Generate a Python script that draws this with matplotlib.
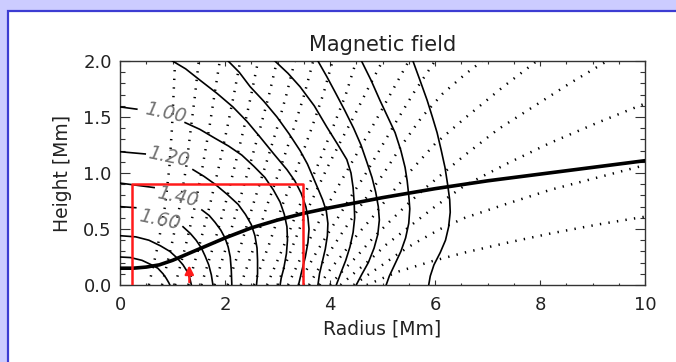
import numpy as np
import matplotlib
matplotlib.use("Agg")
import matplotlib.pyplot as plt
from matplotlib.patches import Rectangle

# ---- data (Radius / Height in Mm) ----
# thick line across the plot
thick_x = [0, 0.25, 0.5, 0.75, 1.0, 1.25, 1.5, 1.75, 2.0, 2.5, 3.0, 3.5, 4.0, 5.0, 6.0, 7.0, 8.0, 9.0, 10.0]
thick_y = [0.15, 0.15, 0.16, 0.18, 0.22, 0.27, 0.32, 0.37, 0.42, 0.51, 0.58, 0.64, 0.69, 0.78, 0.86, 0.93, 0.99, 1.05, 1.11]

# solid field-strength contours, inner to outer
contour_g_x = [0, 0.2, 0.42, 0.6, 0.72, 0.82, 0.88, 0.93, 0.95]
contour_g_y = [0.25, 0.245, 0.22, 0.18, 0.15, 0.10, 0.06, 0.02, 0]
contour_f_x = [0, 0.3, 0.55, 0.77, 0.95, 1.09, 1.2, 1.28, 1.33, 1.36]
contour_f_y = [0.44, 0.43, 0.40, 0.35, 0.30, 0.24, 0.18, 0.12, 0.06, 0]
# labelled contours: a short dash at the axis, then the curve after the label
c160_dash_x = [0, 0.3]
c160_dash_y = [0.70, 0.69]
c160_x = [1.2, 1.34, 1.45, 1.55, 1.62, 1.69, 1.74, 1.77]
c160_y = [0.52, 0.46, 0.40, 0.33, 0.26, 0.18, 0.09, 0]
c140_dash_x = [0, 0.65]
c140_dash_y = [0.91, 0.87]
c140_x = [1.56, 1.7, 1.81, 1.92, 2.0, 2.06, 2.1, 2.12, 2.13]
c140_y = [0.67, 0.62, 0.56, 0.49, 0.42, 0.34, 0.25, 0.13, 0]
c120_dash_x = [0, 0.48]
c120_dash_y = [1.19, 1.17]
c120_x = [1.39, 1.6, 1.81, 2.04, 2.25, 2.39, 2.5, 2.57, 2.61, 2.62, 2.62, 2.6]
c120_y = [1.03, 0.97, 0.90, 0.81, 0.72, 0.63, 0.54, 0.44, 0.33, 0.22, 0.10, 0]
c100_dash_x = [0, 0.32]
c100_dash_y = [1.59, 1.57]
c100_x = [1.24, 1.52, 1.81, 2.07, 2.32, 2.55, 2.76, 2.92, 3.05, 3.13, 3.18, 3.19, 3.17, 3.12, 3.07, 3.05]
c100_y = [1.45, 1.39, 1.31, 1.24, 1.16, 1.06, 0.96, 0.85, 0.74, 0.63, 0.52, 0.40, 0.28, 0.15, 0.06, 0]
# contours that come in from the top edge
top1_x = [1.0, 1.25, 1.52, 1.85, 2.15, 2.42, 2.67, 2.93, 3.18, 3.33, 3.45, 3.54, 3.58, 3.6, 3.58, 3.53, 3.46, 3.4]
top1_y = [2.0, 1.93, 1.83, 1.71, 1.59, 1.46, 1.32, 1.17, 1.03, 0.93, 0.82, 0.70, 0.60, 0.50, 0.38, 0.25, 0.12, 0]
top2_x = [2.06, 2.27, 2.48, 2.74, 2.99, 3.22, 3.43, 3.57, 3.68, 3.78, 3.86, 3.93, 3.96, 3.95, 3.91, 3.85, 3.8, 3.77]
top2_y = [2.0, 1.9, 1.77, 1.64, 1.5, 1.35, 1.2, 1.08, 0.96, 0.85, 0.76, 0.66, 0.55, 0.44, 0.32, 0.2, 0.1, 0]
top3_x = [2.95, 3.2, 3.43, 3.7, 3.94, 4.14, 4.32, 4.4, 4.44, 4.46, 4.47, 4.44, 4.38, 4.3, 4.2, 4.12]
top3_y = [2.0, 1.89, 1.77, 1.6, 1.41, 1.26, 1.12, 1.0, 0.87, 0.74, 0.6, 0.47, 0.34, 0.22, 0.1, 0]
top4_x = [3.77, 3.94, 4.1, 4.28, 4.45, 4.59, 4.7, 4.8, 4.87, 4.92, 4.94, 4.91, 4.84, 4.73, 4.6, 4.5]
top4_y = [2.0, 1.86, 1.72, 1.56, 1.4, 1.25, 1.1, 0.96, 0.83, 0.7, 0.58, 0.45, 0.33, 0.2, 0.09, 0]
top5_x = [4.6, 4.78, 4.95, 5.1, 5.24, 5.35, 5.43, 5.47, 5.5, 5.52, 5.5, 5.44, 5.35, 5.23, 5.13, 5.07]
top5_y = [2.0, 1.83, 1.65, 1.5, 1.36, 1.2, 1.05, 0.93, 0.8, 0.68, 0.55, 0.42, 0.3, 0.18, 0.08, 0]
top6_x = [5.58, 5.72, 5.85, 5.95, 6.04, 6.12, 6.19, 6.24, 6.28, 6.29, 6.26, 6.2, 6.1, 5.98, 5.91, 5.88]
top6_y = [2.0, 1.82, 1.65, 1.5, 1.36, 1.2, 1.05, 0.9, 0.76, 0.65, 0.52, 0.4, 0.29, 0.18, 0.08, 0]

# contour labels
label_text = ["1.00", "1.20", "1.40", "1.60"]
label_x = [0.86, 0.92, 1.10, 0.76]
label_y = [1.54, 1.14, 0.79, 0.58]

# dotted field lines, inner ones sampled at the same heights
inner_y = [0, 0.35, 0.71, 1.05, 1.4, 1.7, 2.0]
fl1 = [0.55, 0.72, 0.86, 0.94, 0.99, 1.02, 1.05]
fl2 = [0.80, 0.98, 1.14, 1.26, 1.35, 1.43, 1.50]
fl3 = [1.05, 1.25, 1.43, 1.57, 1.70, 1.80, 1.90]
fl4 = [1.30, 1.51, 1.71, 1.88, 2.04, 2.17, 2.29]
fl5 = [1.55, 1.78, 2.00, 2.18, 2.36, 2.50, 2.63]
fl6 = [1.80, 2.03, 2.25, 2.46, 2.67, 2.84, 2.99]
fl7 = [2.05, 2.30, 2.53, 2.76, 2.99, 3.17, 3.33]
fl8 = [2.30, 2.56, 2.80, 3.06, 3.31, 3.51, 3.68]
fl9 = [2.55, 2.83, 3.09, 3.38, 3.65, 3.87, 4.05]
fl10 = [2.80, 3.12, 3.42, 3.75, 4.05, 4.30, 4.50]
# outer field lines, bending over to the right
fl11_x = [3.0, 3.12, 3.25, 3.4, 3.55, 3.75, 3.95, 4.2, 4.45, 4.72, 5.0]
fl11_y = [0, 0.15, 0.3, 0.48, 0.65, 0.85, 1.05, 1.28, 1.5, 1.75, 2.0]
fl12_x = [3.2, 3.35, 3.5, 3.67, 3.85, 4.07, 4.3, 4.57, 4.85, 5.17, 5.5]
fl12_y = [0, 0.15, 0.3, 0.46, 0.62, 0.81, 1.0, 1.22, 1.45, 1.72, 2.0]
fl13_x = [3.4, 3.57, 3.75, 3.95, 4.15, 4.4, 4.65, 4.95, 5.25, 5.6, 6.0]
fl13_y = [0, 0.15, 0.3, 0.45, 0.6, 0.79, 0.97, 1.21, 1.45, 1.72, 2.0]
fl14_x = [3.6, 3.8, 4.0, 4.25, 4.5, 4.75, 5.0, 5.37, 5.75, 6.15, 6.57, 6.9]
fl14_y = [0, 0.16, 0.3, 0.48, 0.65, 0.82, 0.98, 1.25, 1.5, 1.71, 1.88, 2.0]
fl15_x = [3.8, 4.02, 4.25, 4.52, 4.8, 5.15, 5.5, 6.0, 6.57, 7.3, 7.94]
fl15_y = [0, 0.15, 0.28, 0.45, 0.6, 0.81, 1.0, 1.26, 1.49, 1.77, 2.0]
fl16_x = [4.0, 4.25, 4.5, 4.8, 5.1, 5.45, 5.8, 6.57, 7.2, 7.9, 8.6, 9.28]
fl16_y = [0, 0.13, 0.25, 0.41, 0.55, 0.71, 0.86, 1.16, 1.39, 1.6, 1.81, 2.0]
fl17_x = [4.2, 4.47, 4.75, 5.07, 5.4, 6.0, 6.57, 7.4, 8.2, 9.1, 10.0]
fl17_y = [0, 0.11, 0.22, 0.36, 0.48, 0.7, 0.89, 1.09, 1.27, 1.45, 1.62]
fl18_x = [4.45, 4.72, 5.0, 5.3, 5.6, 6.1, 6.57, 7.4, 8.2, 9.1, 10.0]
fl18_y = [0, 0.09, 0.18, 0.28, 0.37, 0.5, 0.60, 0.73, 0.85, 0.96, 1.07]
fl19_x = [4.7, 5.0, 5.3, 5.65, 6.0, 6.57, 7.4, 8.2, 9.1, 10.0]
fl19_y = [0, 0.06, 0.12, 0.17, 0.22, 0.29, 0.38, 0.46, 0.54, 0.61]

# red box and red arrow
box_x = [0.23, 0.23, 3.49, 3.49]
box_y = [0, 0.9, 0.9, 0]
arrow_x = 1.32
arrow_y = [0, 0.2]

# ---- figure: lavender slide background with a white panel ----
fig = plt.figure(figsize=(6.76, 3.62), dpi=100, facecolor='#ccccff')
panel = Rectangle((7.5 / 676, -0.1), 1.2, 1 - 10.5 / 362 + 0.1, transform=fig.transFigure,
                  facecolor='white', edgecolor='#3c3cd2', linewidth=1.6, zorder=-10)
fig.patches.append(panel)

ax = fig.add_axes([120 / 676, 1 - 285 / 362, 525 / 676, 224 / 362])

# dotted field lines
dots = dict(color='black', linewidth=1.8, linestyle=(0, (0.55, 2.9)), zorder=2)
for xs in [fl1, fl2, fl3, fl4, fl5, fl6, fl7, fl8, fl9, fl10]:
    ax.plot(xs, inner_y, **dots)
for xs, ys in [(fl11_x, fl11_y), (fl12_x, fl12_y), (fl13_x, fl13_y), (fl14_x, fl14_y),
               (fl15_x, fl15_y), (fl16_x, fl16_y), (fl17_x, fl17_y), (fl18_x, fl18_y),
               (fl19_x, fl19_y)]:
    ax.plot(xs, ys, **dots)

# solid contours
solid = dict(color='black', linewidth=1.2, zorder=3, solid_joinstyle='round')
for xs, ys in [(contour_g_x, contour_g_y), (contour_f_x, contour_f_y),
               (c160_dash_x, c160_dash_y), (c160_x, c160_y),
               (c140_dash_x, c140_dash_y), (c140_x, c140_y),
               (c120_dash_x, c120_dash_y), (c120_x, c120_y),
               (c100_dash_x, c100_dash_y), (c100_x, c100_y),
               (top1_x, top1_y), (top2_x, top2_y), (top3_x, top3_y),
               (top4_x, top4_y), (top5_x, top5_y), (top6_x, top6_y)]:
    ax.plot(xs, ys, **solid)

for t, lx, ly in zip(label_text, label_x, label_y):
    ax.text(lx, ly, t, fontsize=13.5, color='#737373', style='italic', rotation=-12,
            ha='center', va='center', zorder=6)

ax.plot(thick_x, thick_y, color='black', linewidth=2.6, zorder=4, solid_joinstyle='round')

# red box and arrow
ax.plot(box_x, box_y, color='#ff1a1a', linewidth=1.8, zorder=5)
ax.annotate('', xy=(arrow_x, arrow_y[1]), xytext=(arrow_x, arrow_y[0]),
            arrowprops=dict(arrowstyle='-|>', color='#ff1a1a', lw=1.6, mutation_scale=13),
            zorder=5)

# axes, IDL style ticks on all sides
ax.set_xlim(0, 10)
ax.set_ylim(0, 2)
ax.set_xticks([0, 2, 4, 6, 8, 10])
ax.set_xticks(np.arange(0, 10.01, 0.5), minor=True)
ax.set_yticks([0, 0.5, 1.0, 1.5, 2.0])
ax.set_yticks(np.arange(0, 2.001, 0.1), minor=True)
ax.yaxis.set_major_formatter(matplotlib.ticker.FormatStrFormatter('%.1f'))
ax.tick_params(which='both', direction='in', top=True, right=True, colors='#333333',
               labelcolor='#222222', labelsize=13)
ax.tick_params(axis='x', which='major', length=3.4, width=0.8, pad=8)
ax.tick_params(axis='x', which='minor', length=1.8, width=0.8)
ax.tick_params(axis='y', which='major', length=7.5, width=0.8, pad=6)
ax.tick_params(axis='y', which='minor', length=3.8, width=0.8)
for s in ax.spines.values():
    s.set_color('#333333')
    s.set_linewidth(1.0)

ax.set_title('Magnetic field', fontsize=15, color='#222222', pad=7)
ax.set_xlabel('Radius [Mm]', fontsize=13.5, color='#222222', labelpad=4)
ax.set_ylabel('Height [Mm]', fontsize=13.5, color='#222222', labelpad=8)

fig.savefig('out.png', dpi=100, facecolor=fig.get_facecolor())
